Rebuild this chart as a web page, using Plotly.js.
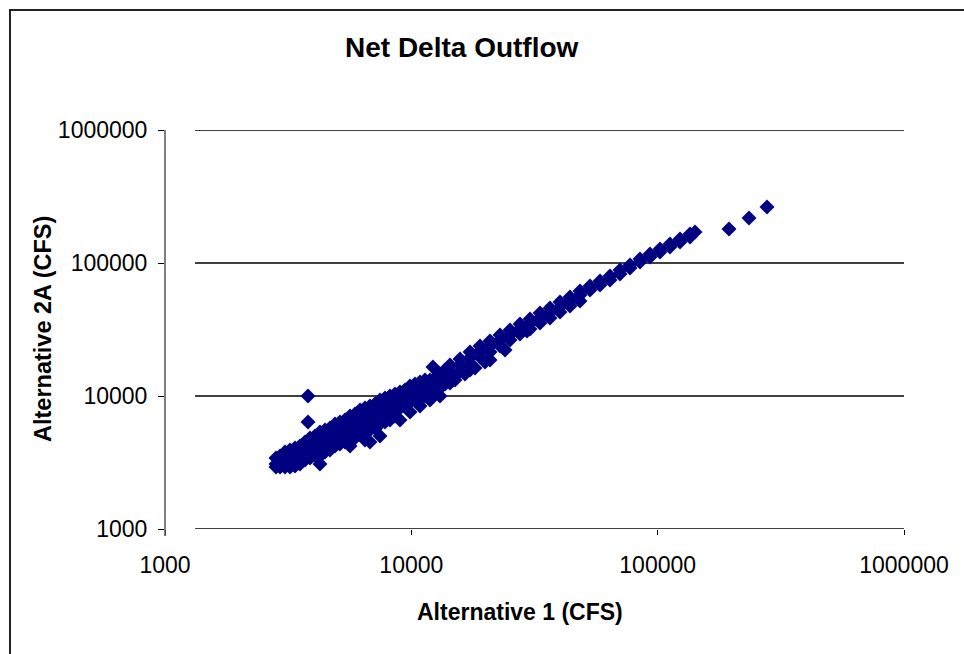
<!DOCTYPE html>
<html>
<head>
<meta charset="utf-8">
<script src="https://cdn.plot.ly/plotly-3.0.1.min.js"></script>
<style>html,body{margin:0;padding:0;background:#fff;}#chart{width:964px;height:654px;}</style>
</head>
<body>
<div id="chart"></div>
<script>
// Alternative 1 (CFS) vs Alternative 2A (CFS)
var alt1 = [
 2822,2822,2822, 2931,2931,2931, 3070,3070,3070,3070, 3217,3217,3217,3217,
 3371,3371,3371,3371, 3532,3532,3532,3532, 3701,3701,3701,3701, 3807,3807,
 3878,3878,3878,3878, 4063,4063,4063,4063, 4257,4257,4257,4257,4257,
 4461,4461,4461,4461, 4674,4674,4674,4674, 4898,4898,4898,4898, 5132,5132,5132,5132,
 5378,5378,5378,5378, 5636,5636,5636,5636,5636, 5905,5905,5905,5905, 6188,6188,6188,6188,
 6484,6484,6484,6484,6484, 6794,6794,6794,6794,6794, 7119,7119,7119,7119,
 7460,7460,7460,7460,7460, 7817,7817,7817,7817, 8191,8191,8191,8191, 8582,8582,8582,8582,
 8995,8995,8995,8995, 9425,9425,9425, 9876,9876,9876,9876, 10349,10349,10349,
 10844,10844,10844,10844, 11363,11363,11363, 11907,11907,11907,11907, 12477,12477,12477,
 13073,13073,13073,13073, 13700,13700,13700, 12240,
 14355,14355,14355,14355, 15040, 15762,15762,15762, 16510, 17307,17307,17307,17307, 18140,
 19003,19003,19003, 19910,
 20865,20865,20865,20865, 22909,22909,22909, 24010, 25155,25155,25155, 27620,27620,27620, 29490,
 30330,30330,30330, 33300,33300,33300, 36560,36560,36560, 40130,40130,40130,
 44070,44070,44070, 48390,48390,48390, 53130,53130, 58330,58330, 64050,64050,
 70330,70330, 77220,77220, 84780,84780, 93090,93090, 102200,102200, 112200,112200,
 123200,123200, 135300,135300, 141800,
 194800, 234900, 277900
];
var alt2a = [
 3419,3082,2926, 3539,3190,2926, 3793,3419,3082,2926, 3926,3539,3190,2926,
 4064,3664,3303,2976, 4208,3793,3419,3082, 4509,4064,3664,3303, 10000,6375,
 4832,4208,3793,3419, 5002,4509,3926,3539, 5362,4668,4064,3539,3082,
 5550,4832,4208,3793, 5746,5002,4356,3926, 6158,5362,4668,4208, 6375,5550,4832,4356,
 6599,5746,5002,4509, 7072,6158,5362,4668,4208, 7322,6375,5550,4832, 7846,6832,5948,5179,
 8123,7072,6158,5362,4668, 8409,7322,6375,5550,4509, 8706,7580,6599,5746,
 9331,8123,7072,6158,5002, 9659,8409,7322,6375, 10000,8706,7580,6599, 10352,9013,7846,7072,
 10717,9331,8123,6599, 11095,9659,8409, 11890,10352,9013,7580, 12310,10717,9331,
 12743,11095,9659,8409, 13193,11486,10000, 13193,11890,10717,9331, 13657,12310,11095,
 14638,13193,11486,10000, 15688,14140,12310, 16530,
 17100,15420,13900,12525, 13193, 18980,17100,15420, 14638, 21427,19310,17406,15688, 16241,
 23770,21800,19650, 18000,
 25920,23770,21427,18655, 28760,26376,23770, 22180, 31380,28760,26376, 34797,31930,29260, 30800,
 37950,34797,31930, 42100,38610,35400, 45907,42100,38610, 50930,46710,42834,
 55540,51820,47520, 61620,57500,51820, 67200,62700, 73280,68370, 79903,74555,
 88650,82720, 96670,91777, 107200,101800, 116900,110900, 127500,121000, 139000,132000,
 151600,143900, 165300,156900, 171100,
 180200, 217900, 263700
];
var xTickVals = [1000, 10000, 100000, 1000000];
var xTickText = ['1000', '10000', '100000', '1000000'];
var yTickVals = [1000, 10000, 100000, 1000000];
var yTickText = ['1000', '10000', '100000', '1000000'];
var gridVals = [10000, 100000, 1000000];

var FONT = '"Liberation Sans", Arial, sans-serif';

var trace = {
  type: 'scatter', mode: 'markers',
  x: alt1, y: alt2a,
  marker: {symbol: 'diamond', size: 11.5, color: '#000080', line: {width: 0}},
  hoverinfo: 'x+y'
};

var L = 165, R = 904, T = 130, B = 529;
var W = R - L, H = B - T;
function px(p) { return (p - L) / W; }
function py(p) { return (B - p) / H; }

var shapes = [];
gridVals.forEach(function (v) {
  shapes.push({type: 'line', xref: 'paper', yref: 'y', x0: px(195), x1: 1, y0: v, y1: v,
    line: {color: '#000', width: 1.3}, layer: 'below'});
});
// x axis line (starts right of the y axis, as in the reference)
shapes.push({type: 'line', xref: 'paper', yref: 'y', x0: px(195), x1: 1, y0: 1000, y1: 1000,
  line: {color: '#000', width: 1.5}, layer: 'below'});
// y axis line extends slightly below the x axis, as in the reference
shapes.push({type: 'line', xref: 'paper', yref: 'paper', x0: 0, x1: 0, y0: py(536), y1: 1,
  line: {color: '#555', width: 1.5}});
// outer chart frame
shapes.push({type: 'rect', xref: 'paper', yref: 'paper', x0: px(10), x1: px(975), y0: py(665), y1: py(10),
  line: {color: '#222', width: 2}, fillcolor: 'rgba(0,0,0,0)'});

var layout = {
  width: 964, height: 654,
  margin: {l: L, r: 964 - R, t: T, b: 654 - B, pad: 0},
  paper_bgcolor: '#fff', plot_bgcolor: '#fff',
  showlegend: false,
  font: {family: FONT, color: '#000'},
  xaxis: {
    type: 'log', range: [3, 6], fixedrange: true,
    showgrid: false, zeroline: false, showline: false,
    ticks: 'outside', ticklen: 5, tickwidth: 1, tickcolor: '#000',
    tickmode: 'array', tickvals: xTickVals, ticktext: xTickText,
    tickfont: {family: FONT, size: 23, color: '#000'},
    ticklabelstandoff: 10
  },
  yaxis: {
    type: 'log', range: [3, 6], fixedrange: true,
    showgrid: false, zeroline: false, showline: false,
    ticks: 'outside', ticklen: 6, tickwidth: 1, tickcolor: '#000',
    tickmode: 'array', tickvals: yTickVals, ticktext: yTickText,
    tickfont: {family: FONT, size: 23, color: '#000'},
    ticklabelstandoff: 6
  },
  shapes: shapes,
  annotations: [
    {text: '<b>Net Delta Outflow</b>', xref: 'paper', yref: 'paper', x: px(462), y: py(48),
      xanchor: 'center', yanchor: 'middle', showarrow: false, font: {family: FONT, size: 28, color: '#000'}},
    {text: '<b>Alternative 1 (CFS)</b>', xref: 'paper', yref: 'paper', x: px(520), y: py(612),
      xanchor: 'center', yanchor: 'middle', showarrow: false, font: {family: FONT, size: 23, color: '#000'}},
    {text: '<b>Alternative 2A (CFS)</b>', xref: 'paper', yref: 'paper', x: px(43), y: py(329),
      xanchor: 'center', yanchor: 'middle', textangle: -90, showarrow: false, font: {family: FONT, size: 23.5, color: '#000'}}
  ]
};

Plotly.newPlot('chart', [trace], layout, {staticPlot: true, displayModeBar: false});
</script>
</body>
</html>
